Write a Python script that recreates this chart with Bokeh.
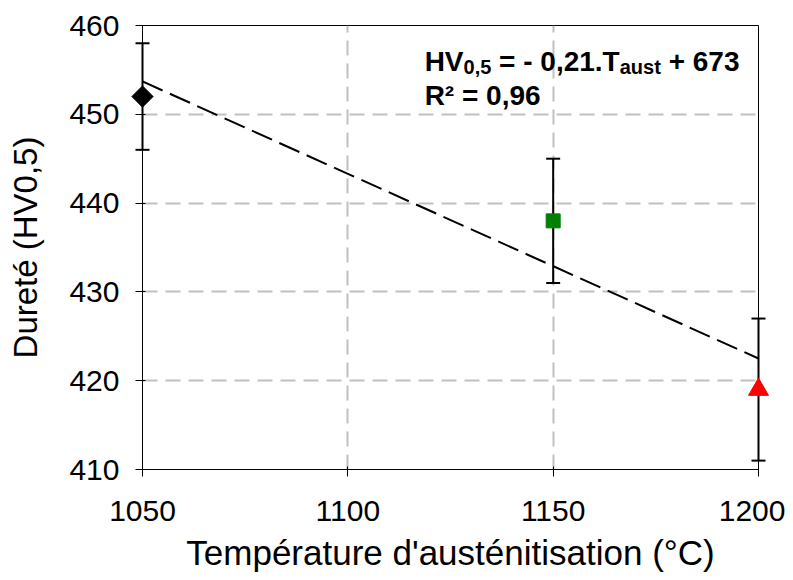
from bokeh.plotting import figure
from bokeh.models import ColumnDataSource, FixedTicker, Label, Title
from bokeh.embed import file_html
from bokeh.resources import INLINE
import math

# ---- data ----
temps = [1050, 1150, 1200]
hardness = [452, 438, 419]
err = [6, 7, 8]
marker_kinds = ["square", "square", "triangle"]
marker_colors = ["#000000", "#008000", "#ff0000"]
marker_angles = [math.pi / 4, 0.0, 0.0]
marker_sizes = [15, 14, 20]

trend_x = [1050, 1200]
trend_y = [453.7, 422.5]

x_ticks = [1050, 1100, 1150, 1200]
y_ticks = [410, 420, 430, 440, 450, 460]

x_title = "Température d'austénitisation (°C)"
y_title = "Dureté (HV0,5)"

FONT = "Liberation Sans"

p = figure(width=785, height=580, output_backend="svg", toolbar_location=None,
           x_range=(1050, 1200), y_range=(410, 460),
           min_border_left=142, min_border_right=27, min_border_top=25, min_border_bottom=111)
p.background_fill_color = "white"
p.border_fill_color = "white"
p.outline_line_color = "black"
p.outline_line_width = 1

for ax in (p.xaxis[0], p.yaxis[0]):
    ax.major_label_text_font = FONT
    ax.major_label_text_font_size = "30px"
    ax.major_label_text_color = "black"
    ax.axis_label_text_font = FONT
    ax.axis_label_text_font_size = "33px"
    ax.axis_label_text_font_style = "normal"
    ax.axis_label_text_color = "black"
    ax.axis_line_color = "black"
    ax.axis_line_width = 1
    ax.major_tick_line_color = "black"
    ax.major_tick_out = 7
    ax.major_tick_in = 3
    ax.minor_tick_line_color = None

p.xaxis.ticker = FixedTicker(ticks=x_ticks)
p.yaxis.ticker = FixedTicker(ticks=y_ticks)
p.yaxis.axis_label = y_title
p.xaxis.major_label_standoff = 24
p.yaxis.major_label_standoff = 16
p.yaxis.axis_label_standoff = 22

p.add_layout(Title(text=x_title, align="center", text_font=FONT, text_font_size="35px",
                   text_font_style="normal", text_color="black", standoff=14,
                   text_line_height=0.75), "below")

for g in (p.xgrid[0], p.ygrid[0]):
    g.grid_line_color = "#c0c0c0"
    g.grid_line_width = 2
    g.grid_line_dash = "15 8"

# trend line
p.line(trend_x, trend_y, line_color="black", line_width=2, line_dash="22 8")

# error bars
src = ColumnDataSource(dict(
    x=temps, y=hardness,
    upper=[h + e for h, e in zip(hardness, err)],
    lower=[h - e for h, e in zip(hardness, err)],
    marker=marker_kinds, color=marker_colors, angle=marker_angles, size=marker_sizes,
))
p.segment(x0="x", y0="lower", x1="x", y1="upper", source=src,
          line_color="black", line_width=2, level="overlay")
p.scatter(x="x", y="upper", marker="dash", size=14, line_color="black", line_width=2,
          source=src, level="overlay")
p.scatter(x="x", y="lower", marker="dash", size=14, line_color="black", line_width=2,
          source=src, level="overlay")

p.scatter(x="x", y="y", marker="marker", size="size", angle="angle",
          fill_color="color", line_color="color", source=src, level="overlay")

# equation
WB = {'H': 0.722, 'V': 0.667, ',': 0.278, ' ': 0.278, '\u00a0': 0.278, '=': 0.584, '-': 0.333,
      '.': 0.278, 'T': 0.611, 'a': 0.556, 'u': 0.611, 's': 0.556, 't': 0.333, '+': 0.584,
      'R': 0.722, '²': 0.333}
def tw(s, size):
    return sum(WB.get(c, 0.556) for c in s) * size

MAIN, SUB = 28, 20
NB = "\u00a0"
eq_x, eq_y1, eq_y2 = 1118.7, 456.0, 452.15
pieces = [("HV", MAIN), ("0,5", SUB), (NB + "=" + NB + "-" + NB + "0,21.T", MAIN), ("aust", SUB),
          (NB + "+" + NB + "673", MAIN)]
off = 0.0
for txt, sz in pieces:
    p.add_layout(Label(x=eq_x, y=eq_y1, x_offset=off, y_offset=(-6 if sz == SUB else 0), text=txt,
                       text_font=FONT, text_font_size=f"{sz}px", text_font_style="bold",
                       text_color="black", text_baseline="alphabetic", text_align="left"))
    off += tw(txt, sz)
p.add_layout(Label(x=eq_x, y=eq_y2, text="R²" + NB + "=" + NB + "0,96", text_font=FONT,
                   text_font_size=f"{MAIN}px", text_font_style="bold", text_color="black",
                   text_baseline="alphabetic"))

open("out.html", "w").write(file_html(p, INLINE))
